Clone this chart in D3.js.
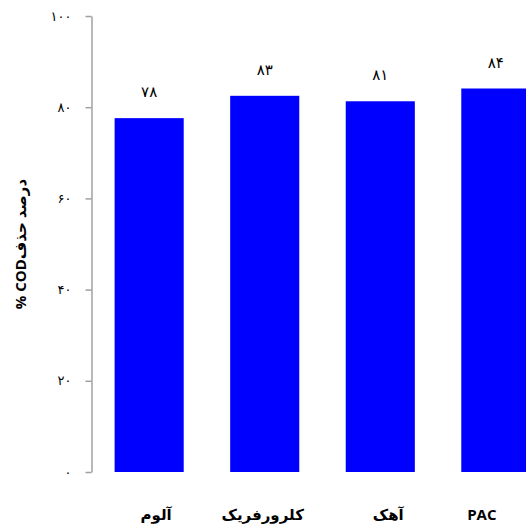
<!DOCTYPE html>
<html><head><meta charset="utf-8">
<script src="https://cdn.jsdelivr.net/npm/d3@7"></script>
<style>
body{margin:0;background:#fff;}
svg{display:block;}
</style></head>
<body>
<script>
const categories = ["آلوم", "کلرورفریک", "آهک", "PAC"];
const values = [77.6, 82.5, 81.3, 84.1];
const valueLabels = ["۷۸", "۸۳", "۸۱", "۸۴"];
const tickValues = [0, 20, 40, 60, 80, 100];
const tickLabels = ["۰", "۲۰", "۴۰", "۶۰", "۸۰", "۱۰۰"];
const yTitle = "درصد حذفCOD %";

const W = 526, H = 529;
const fontStack = "'Open Sans', 'DejaVu Sans', sans-serif";
const svg = d3.select("body").append("svg").attr("width", W).attr("height", H);

const y = d3.scaleLinear().domain([0, 100]).range([472, 16]);
const x = d3.scaleBand().domain(categories).range([91.5, 553.5]).paddingInner(0.402).paddingOuter(0.2);

// axis
const axis = d3.axisLeft(y).tickValues(tickValues).tickSize(6).tickSizeOuter(0).tickPadding(14)
  .tickFormat((d, i) => tickLabels[i]);
const g = svg.append("g").attr("transform", "translate(91.5,0)").call(axis);
g.select(".domain").attr("stroke", "#a0a0a0").attr("stroke-width", 1.5);
g.selectAll(".tick line").attr("stroke", "#a0a0a0").attr("stroke-width", 1.5);
g.selectAll(".tick text").attr("fill", "#000").style("font-family", fontStack).style("font-size", "13px");

// bars
svg.selectAll("rect.bar").data(values).enter().append("rect")
  .attr("class", "bar")
  .attr("x", (d, i) => x(categories[i]))
  .attr("width", x.bandwidth())
  .attr("y", d => y(d))
  .attr("height", d => y(0) - y(d))
  .attr("fill", "#0000ff");

// value labels
svg.selectAll("text.val").data(values).enter().append("text")
  .attr("class", "val")
  .attr("x", (d, i) => x(categories[i]) + x.bandwidth() / 2)
  .attr("y", d => y(d) - 21)
  .attr("text-anchor", "middle")
  .style("font-family", fontStack).style("font-size", "15px")
  .attr("fill", "#000")
  .text((d, i) => valueLabels[i]);

// category labels
const labelShift = [7, -2, 8, -14];
svg.selectAll("text.cat").data(categories).enter().append("text")
  .attr("class", "cat")
  .attr("x", (d, i) => x(d) + x.bandwidth() / 2 + labelShift[i])
  .attr("y", 520)
  .attr("text-anchor", "middle")
  .style("font-family", fontStack).style("font-size", "15px").style("font-weight", "bold")
  .attr("fill", "#000")
  .text(d => d);

// y title
svg.append("text")
  .attr("transform", `translate(26,${(y(0) + y(100)) / 2}) rotate(-90)`)
  .attr("text-anchor", "middle")
  .attr("direction", "rtl")
  .style("unicode-bidi", "plaintext")
  .style("font-family", fontStack).style("font-size", "15px").style("font-weight", "bold")
  .attr("fill", "#000")
  .text(yTitle);
</script>
</body></html>
